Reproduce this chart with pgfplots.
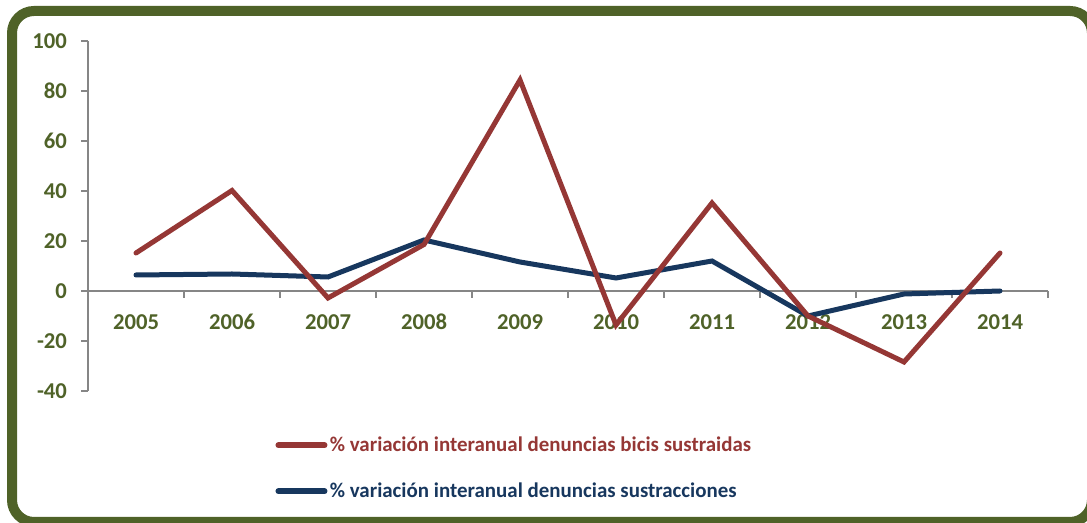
\documentclass[border=0pt]{standalone}
\usepackage{pgfplots}
\pgfplotsset{compat=1.18}
\usepackage{fontspec}
\setmainfont{Carlito}
\definecolor{bordergreen}{HTML}{4F6228}
\definecolor{txtgreen}{HTML}{4F6228}
\definecolor{redline}{HTML}{953735}
\definecolor{blueline}{HTML}{17375E}
\definecolor{axgray}{HTML}{868686}

\begin{document}
\begin{tikzpicture}
\begin{scope}[x=0.75pt,y=0.75pt]
\useasboundingbox (0,0) rectangle (1087,523);
\draw[bordergreen, line width=7.5pt, rounded corners=16.5pt] (12,1) rectangle (1092,512);
\end{scope}
\begin{axis}[
  at={(66pt,99pt)}, anchor=south west,
  scale only axis, width=720pt, height=262.5pt,
  xmin=-0.5, xmax=9.5, ymin=-40, ymax=100,
  axis x line*=middle, axis y line*=left,
  hide obscured x ticks=false,
  axis line style={axgray, line width=1.1pt},
  every tick/.style={axgray, line width=1.1pt},
  tick align=outside,
  major tick length=5.25pt,
  xtick={-0.5,0.5,...,9.5},
  x tick label as interval,
  xticklabels={2005,2006,2007,2008,2009,2010,2011,2012,2013,2014},
  ytick={-40,-20,...,100},
  tick label style={font=\fontsize{17}{20}\selectfont\bfseries, text=txtgreen},
  xticklabel style={anchor=base, yshift=-23.5pt},
  yticklabel style={xshift=-7pt, font=\fontsize{17}{20}\selectfont\bfseries},
  /pgf/number format/assume math mode=true,
  reverse legend,
  legend style={at={(0.195,-0.123)}, anchor=north west, draw=none, fill=none,
    font=\fontsize{15.7}{18}\selectfont\bfseries, row sep=18pt, inner sep=0pt,
    nodes={inner xsep=1.8pt}},
  legend cell align=left,
  legend image code/.code={\draw[#1, line width=4.5pt, line cap=round] (0pt,0pt) -- (34.5pt,0pt);},
]
\addplot[blueline, line width=3.75pt, line cap=round] coordinates {
 (0,6.4) (1,6.8) (2,5.6) (3,20.4) (4,11.6) (5,5.2) (6,12) (7,-10) (8,-1.2) (9,0)};
\addlegendentry[text=blueline]{\% variación interanual denuncias sustracciones}
\addplot[redline, line width=3.75pt, line cap=round] coordinates {
 (0,15.2) (1,40.2) (2,-2.8) (3,18.6) (4,84.4) (5,-13.6) (6,35.2) (7,-10) (8,-28.4) (9,15.2)};
\addlegendentry[text=redline]{\% variación interanual denuncias bicis sustraidas}
\end{axis}
\end{tikzpicture}
\end{document}
